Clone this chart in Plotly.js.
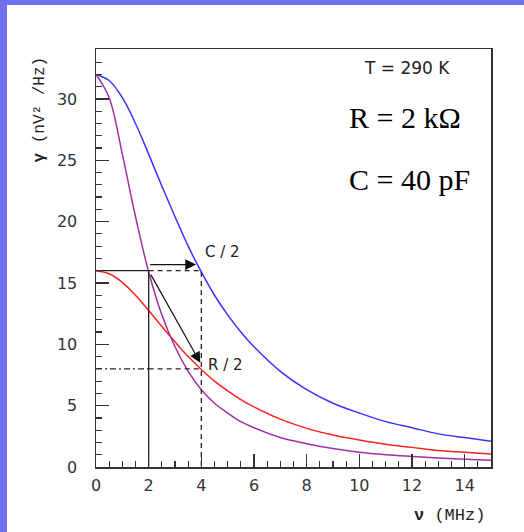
<!DOCTYPE html>
<html>
<head>
<meta charset="utf-8">
<script src="https://cdn.plot.ly/plotly-3.0.1.min.js"></script>
<style>
  html, body { margin:0; padding:0; width:524px; height:532px; overflow:hidden; background:#7070ee; }
  #panel { position:absolute; left:7px; top:5px; right:0; bottom:0; background:#ffffff; }
  #chart { position:absolute; left:0; top:0; width:524px; height:532px; }
</style>
</head>
<body>
<div id="panel"></div>
<div id="chart"></div>
<script>
// frequency (MHz)
const nu = [0,0.5,1,1.5,2,2.5,3,3.5,4,4.5,5,5.5,6,7,8,9,10,11,12,13,14,15];
// spectral density (nV^2/Hz)
const gammaRC   = [32,30.1,25.5,20.4,15.9,12.4,9.8,7.8,6.3,5.2,4.4,3.7,3.2,2.4,1.9,1.5,1.2,1.0,0.86,0.73,0.63,0.55];   // R, C (purple)
const gammaC2   = [32,31.5,30.1,28.0,25.5,22.9,20.4,18.0,15.9,14.0,12.4,11.0,9.8,7.8,6.3,5.2,4.4,3.7,3.2,2.7,2.4,2.1]; // C/2 (blue)
const gammaR2   = [16,15.75,15.05,14.0,12.75,11.45,10.2,9.0,7.95,7.0,6.2,5.5,4.9,3.9,3.15,2.6,2.2,1.85,1.6,1.35,1.2,1.05]; // R/2 (red)

// guide lines
const solidX = [0,2,2];   const solidY = [16,16,0];
const dashX  = [2,4,4];   const dashY  = [16,16,0];
const dashDotX = [0,2];   const dashDotY = [8,8];
const dash2X = [2,4];     const dash2Y = [8,8];

const xTicks = [0,2,4,6,8,10,12,14];
const yTicks = [0,5,10,15,20,25,30];

const traces = [
  {x:nu, y:gammaC2, mode:'lines', line:{color:'#3535ff', width:1.5, shape:'spline'}},
  {x:nu, y:gammaR2, mode:'lines', line:{color:'#ff2222', width:1.5, shape:'spline'}},
  {x:nu, y:gammaRC, mode:'lines', line:{color:'#a030a0', width:1.5, shape:'spline'}},
  {x:solidX, y:solidY, mode:'lines', line:{color:'#222', width:1.3}},
  {x:dashX, y:dashY, mode:'lines', line:{color:'#222', width:1.3, dash:'5px,4px'}},
  {x:dashDotX, y:dashDotY, mode:'lines', line:{color:'#222', width:1.3, dash:'6px,3px,2px,3px'}},
  {x:dash2X, y:dash2Y, mode:'lines', line:{color:'#222', width:1.3, dash:'5px,4px'}}
];

const tickFont = {family:'DejaVu Sans, Liberation Sans, Arial, sans-serif', size:16, color:'#333'};
const nb = '\u00a0';
const monoFont = 'Liberation Mono, DejaVu Sans Mono, monospace';

const layout = {
  width:524, height:532,
  margin:{l:96, r:33, t:49, b:65},
  paper_bgcolor:'rgba(0,0,0,0)',
  plot_bgcolor:'#ffffff',
  showlegend:false,
  xaxis:{
    range:[0,15], tickvals:xTicks, ticks:'inside', ticklen:13, tickwidth:1.3, tickcolor:'#333',
    showline:true, mirror:true, linecolor:'#333', linewidth:1.5, showgrid:false, zeroline:false,
    tickfont:tickFont, ticklabelstandoff:3,
    minor:{dtick:0.5, ticks:'inside', ticklen:6, tickwidth:1.2, tickcolor:'#333', showgrid:false}
  },
  yaxis:{
    range:[0,34.07], tickvals:yTicks, ticks:'inside', ticklen:13, tickwidth:1.3, tickcolor:'#333',
    showline:true, mirror:true, linecolor:'#333', linewidth:1.5, showgrid:false, zeroline:false,
    tickfont:tickFont, ticklabelstandoff:14,
    minor:{dtick:1, ticks:'inside', ticklen:6, tickwidth:1.2, tickcolor:'#333', showgrid:false}
  },
  annotations:[
    {xref:'paper', yref:'paper', x:-0.142, y:0.855, xanchor:'center', yanchor:'middle',
     text:'<b>γ</b>'+nb+'(nV²'+nb+'/Hz)', textangle:-90, showarrow:false,
     font:{family:monoFont, size:16, color:'#222'}},
    {xref:'paper', yref:'paper', x:0.99, y:-0.117, xanchor:'right', yanchor:'middle',
     text:'<b>ν</b>'+nb+'(MHz)', showarrow:false,
     font:{family:monoFont, size:17, color:'#222'}},
    {xref:'x', yref:'y', x:11.8, y:32.5, text:'T'+nb+'='+nb+'290'+nb+'K', showarrow:false,
     font:{family:'DejaVu Sans, Liberation Sans, Arial, sans-serif', size:17, color:'#222'}},
    {xref:'x', yref:'y', x:11.75, y:28.5, text:'R = 2 kΩ', showarrow:false,
     font:{family:'Liberation Serif, Times New Roman, serif', size:30, color:'#000'}},
    {xref:'x', yref:'y', x:11.9, y:23.4, text:'C = 40 pF', showarrow:false,
     font:{family:'Liberation Serif, Times New Roman, serif', size:30, color:'#000'}},
    {xref:'x', yref:'y', x:4.8, y:17.5, text:'C'+nb+'/'+nb+'2', showarrow:false,
     font:{family:'DejaVu Sans, Liberation Sans, Arial, sans-serif', size:15, color:'#222'}},
    {xref:'x', yref:'y', x:4.9, y:8.3, text:'R'+nb+'/'+nb+'2', showarrow:false,
     font:{family:'DejaVu Sans, Liberation Sans, Arial, sans-serif', size:15, color:'#222'}},
    {xref:'x', yref:'y', axref:'x', ayref:'y', x:3.8, y:16.5, ax:2.0, ay:16.5, text:'', showarrow:true,
     arrowhead:2, arrowsize:1.8, arrowwidth:1.2, arrowcolor:'#111', standoff:0, startstandoff:0},
    {xref:'x', yref:'y', axref:'x', ayref:'y', x:3.96, y:8.5, ax:2.05, ay:15.8, text:'', showarrow:true,
     arrowhead:2, arrowsize:1.8, arrowwidth:1.2, arrowcolor:'#111', standoff:0, startstandoff:0}
  ]
};

Plotly.newPlot('chart', traces, layout, {staticPlot:true, displayModeBar:false});
</script>
</body>
</html>
